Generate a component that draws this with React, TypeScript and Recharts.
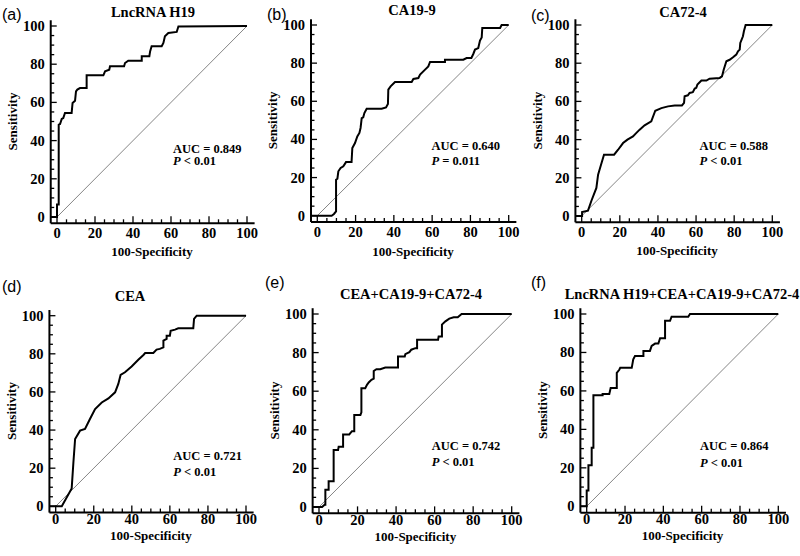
import React from "react";
import { LineChart, Line, XAxis, YAxis, ReferenceLine } from "recharts";

const SERIF = '"Liberation Serif", "Times New Roman", serif';
const SANS = '"Liberation Sans", Arial, sans-serif';

const TICKS = [0, 5, 10, 15, 20, 25, 30, 35, 40, 45, 50, 55, 60, 65, 70, 75, 80, 85, 90, 95, 100];
const X_DOMAIN: [number, number] = [-3.3, 104];
const Y_DOMAIN: [number, number] = [-3.3, 103];

// [100-specificity, sensitivity]
const LNCRNA_H19: [number, number][] = [
  [-3.3, 0], [0, 0], [0, 6.5], [0.9, 6.5], [0.9, 48.3], [1.6, 48.7], [2.5, 51.3], [3.3, 51.8],
  [4.2, 54.5], [7.7, 54.5], [8.2, 59.7], [9.5, 60.9], [10, 65.8], [10.7, 66.7], [12.1, 67.5],
  [15.6, 67.5], [15.6, 74.2], [24.4, 74.2], [25.3, 76.3], [27.5, 77.1], [27.9, 78.9], [35.3, 78.9],
  [35.8, 80.6], [37.5, 81.8], [44.6, 81.8], [44.6, 84.1], [48.6, 84.1], [49, 86.7], [49.8, 89.4],
  [55.1, 89.4], [56, 91.1], [56.8, 94.6], [58.6, 96.3], [63, 96.9], [63.9, 99.8], [100, 100],
];

const CA199: [number, number][] = [
  [-3.3, 0], [7.5, 0], [8.7, 0.9], [9.8, 2.3], [9.8, 18.9], [10.5, 19.4], [11, 23.3], [12.2, 25],
  [13.6, 25.9], [15, 28.1], [17.9, 28.1], [18.3, 35.5], [19.7, 38.1], [20.9, 41.6], [22, 43.4],
  [22.6, 46], [23.2, 51.2], [24, 51.6], [24.6, 53.8], [25.8, 56.1], [33.6, 56.1], [35.9, 56.8],
  [36.9, 58.6], [37.1, 66.1], [38.3, 67.8], [40.6, 70.1], [49.3, 70.1], [50.2, 71.7], [52.8, 72.2],
  [53.7, 74], [56.3, 76.6], [58, 78.3], [58.9, 80.6], [66.7, 80.6], [66.7, 81.8], [76.3, 81.8],
  [78, 82.7], [80.5, 82.7], [81.5, 84.8], [82.4, 87.1], [84.1, 87.9], [85, 91.8], [85.9, 93.5],
  [86.2, 98.4], [95.5, 98.4], [96.3, 100], [100, 100],
];

const CA724: [number, number][] = [
  [-3.3, 0], [0.2, 0], [0.2, 2.1], [3.3, 2.8], [5.1, 8], [7.7, 14.7], [8.6, 21.6], [9.4, 24.3],
  [11.7, 32.1], [17, 32.1], [19.1, 34.7], [21.7, 38.2], [24, 40], [26.9, 41.7], [28.7, 43.5],
  [30.4, 45.2], [33, 47.5], [36.5, 49.6], [38.6, 55.1], [41.8, 56.5], [45.3, 57.4], [48.8, 57.9],
  [52.6, 57.9], [53.7, 59.2], [54, 62.7], [55.7, 63.2], [56.6, 64.4], [58.3, 64.8], [59.3, 66.7],
  [60.1, 67.1], [60.7, 68.8], [62.8, 70.9], [65.4, 70.9], [67.1, 71.9], [72.4, 72.3], [73.6, 73.1],
  [74.5, 76.6], [75.9, 81], [77.6, 81.8], [79.4, 83.1], [81.1, 84.5], [82, 86.2], [82.9, 87.1],
  [83.2, 90.6], [83.7, 91.8], [84.6, 94.1], [85.1, 96.7], [86, 100], [100, 100],
];

const CEA: [number, number][] = [
  [-3.3, 0], [3.2, 0], [8.4, 9.4], [9.3, 23], [10.2, 35.3], [12.8, 39.7], [15.4, 40.6], [18, 45.8],
  [20.7, 51], [24.2, 54.5], [27.7, 56.6], [31.2, 59.8], [32.9, 64.2], [34.1, 68.9], [36.4, 70.3],
  [39.9, 73.4], [43.4, 76.9], [46.1, 79.4], [47, 80.4], [51.3, 80.4], [53, 82.2], [54.7, 82.6],
  [56.6, 83.4], [56.6, 86.9], [58.3, 87.8], [58.3, 89.5], [60, 89.5], [60.4, 92.1], [62.7, 92.7],
  [64.4, 93.4], [72.3, 93.4], [72.7, 98.3], [74.1, 100], [100, 100],
];

const CEA_CA199_CA724: [number, number][] = [
  [-3.3, 0], [1.6, 0], [2.9, 1.2], [3.3, 1.2], [3.3, 9], [5, 9], [5, 13.3], [7.6, 13.3],
  [7.6, 29.5], [9.9, 29.5], [10.2, 31.2], [12.5, 31.2], [12.5, 37.6], [15.7, 37.6], [17.1, 39.3],
  [18.3, 39.3], [18.3, 47.7], [21.5, 47.7], [22, 49], [22, 61.5], [24, 61.5], [24.9, 63.3],
  [25.8, 64.5], [27.2, 65.9], [28.4, 66.5], [28.4, 70.5], [29.8, 71.4], [31.8, 71.4], [34.4, 72.3],
  [41, 72.3], [41, 78], [44.5, 78], [44.8, 79.2], [46.9, 80.2], [47.9, 81.5], [50, 82.3],
  [50.9, 82.3], [50.9, 86.7], [61.8, 86.7], [62.1, 88.4], [63.8, 88.4], [63.8, 94.5], [65.6, 96.2],
  [67.6, 97.6], [69.9, 98.3], [72, 98.3], [74, 100], [100, 100],
];

const ALL_MARKERS: [number, number][] = [
  [-3.3, 0], [0, 0], [0, 8.2], [0.9, 8.2], [0.9, 21.3], [2.6, 21.3], [2.6, 30.4], [3.5, 30.4],
  [3.5, 57.7], [8.3, 57.7], [8.3, 58.4], [11.8, 58.4], [12.5, 61.5], [15.7, 61.5], [15.7, 69.4],
  [17, 71], [17.5, 72], [23.5, 72], [24.3, 76.4], [25.2, 78.1], [29.6, 78.1], [29.6, 80.8],
  [33, 80.8], [33.9, 83.4], [35.7, 84.6], [37.4, 84.6], [38.3, 87.4], [40.9, 87.4], [40.9, 96.5],
  [43.5, 96.5], [44.3, 98.6], [53, 98.6], [53.9, 100], [100, 100],
];

const TAGS = ["(a)", "(b)", "(c)", "(d)", "(e)", "(f)"];
const TITLES = ["LncRNA H19", "CA19-9", "CA72-4", "CEA", "CEA+CA19-9+CA72-4", "LncRNA H19+CEA+CA19-9+CA72-4"];
const AUCS = ["0.849", "0.640", "0.588", "0.721", "0.742", "0.864"];
const P_TEXT = ["< 0.01", "= 0.011", "< 0.01", "< 0.01", "< 0.01", "< 0.01"];
const CURVES = [LNCRNA_H19, CA199, CA724, CEA, CEA_CA199_CA724, ALL_MARKERS];

// pixel spots where 0 and 100 land on each axis, plus text anchors
const LAYOUT = [
  { x0: 57, x100: 247, y0: 217, y100: 26, tagX: 2, tagY: 20, titleX: 153, titleY: 17, tickDy: 15, labelDy: 33, aucX: 173, aucY: 152.5, pY: 165 },
  { x0: 317.3, x100: 508.7, y0: 215.7, y100: 25, tagX: 267, tagY: 20, titleX: 412, titleY: 15, tickDy: 15, labelDy: 34, aucX: 431.5, aucY: 150, pY: 164.5 },
  { x0: 581.7, x100: 772.3, y0: 216, y100: 25, tagX: 531, tagY: 21, titleX: 683, titleY: 17, tickDy: 15, labelDy: 33, aucX: 699.5, aucY: 149.5, pY: 164.5 },
  { x0: 55.7, x100: 246, y0: 506.3, y100: 315.7, tagX: 2, tagY: 292, titleX: 130, titleY: 301, tickDy: 11.5, labelDy: 27.5, aucX: 173.3, aucY: 460, pY: 476 },
  { x0: 319, x100: 511.7, y0: 507, y100: 314, tagX: 265, tagY: 288, titleX: 411, titleY: 299, tickDy: 11.5, labelDy: 27.5, aucX: 431.7, aucY: 450, pY: 466 },
  { x0: 586.7, x100: 778.3, y0: 506.3, y100: 314, tagX: 531, tagY: 288, titleX: 682, titleY: 299, tickDy: 11.5, labelDy: 27.5, aucX: 700, aucY: 450, pY: 466.5 },
];

const Y_AXIS_W = 40;
const X_AXIS_H = 10;

function BottomTick(props: any) {
  const { x, y, payload, dy } = props;
  const major = payload.value % 20 === 0;
  return (
    <g>
      <line x1={x} y1={y} x2={x} y2={y - (major ? 7 : 4)} stroke="#000" strokeWidth={1.3} />
      {major && (
        <text x={x} y={y + dy} textAnchor="middle" fontFamily={SERIF} fontWeight="bold" fontSize={14.5} fill="#000">
          {payload.value}
        </text>
      )}
    </g>
  );
}

function LeftTick(props: any) {
  const { x, y, payload } = props;
  const major = payload.value % 20 === 0;
  return (
    <g>
      <line x1={x} y1={y} x2={x + (major ? 6 : 3.5)} y2={y} stroke="#000" strokeWidth={1.3} />
      {major && (
        <text x={x - 6} y={y + 5} textAnchor="end" fontFamily={SERIF} fontWeight="bold" fontSize={14.5} fill="#000">
          {payload.value}
        </text>
      )}
    </g>
  );
}

function RocPanel({ index }: { index: number }) {
  const box = LAYOUT[index];
  const sx = (box.x100 - box.x0) / 100;
  const sy = (box.y0 - box.y100) / 100;
  const left = box.x0 + X_DOMAIN[0] * sx;
  const right = box.x0 + X_DOMAIN[1] * sx;
  const top = box.y0 - Y_DOMAIN[1] * sy;
  const bottom = box.y0 - Y_DOMAIN[0] * sy;
  const data = CURVES[index].map(([x, y]) => ({ x, y }));

  return (
    <div style={{ position: "absolute", left: 0, top: 0 }}>
      <LineChart
        width={800}
        height={556}
        data={data}
        margin={{ top, left: left - Y_AXIS_W, right: 800 - right, bottom: 556 - bottom - X_AXIS_H }}
      >
        <XAxis
          type="number"
          dataKey="x"
          domain={X_DOMAIN}
          ticks={TICKS}
          interval={0}
          allowDataOverflow
          height={X_AXIS_H}
          tickSize={0}
          tickMargin={0}
          tickLine={false}
          axisLine={{ stroke: "#000", strokeWidth: 2 }}
          tick={(p: any) => <BottomTick {...p} dy={box.tickDy} />}
        />
        <YAxis
          type="number"
          domain={Y_DOMAIN}
          ticks={TICKS}
          interval={0}
          allowDataOverflow
          width={Y_AXIS_W}
          tickSize={0}
          tickMargin={0}
          tickLine={false}
          axisLine={{ stroke: "#000", strokeWidth: 2 }}
          tick={(p: any) => <LeftTick {...p} />}
        />
        <ReferenceLine
          segment={[{ x: 0, y: 0 }, { x: 100, y: 100 }]}
          stroke="#666"
          strokeWidth={0.8}
        />
        <Line
          type="linear"
          dataKey="y"
          stroke="#000"
          strokeWidth={2}
          dot={false}
          isAnimationActive={false}
        />
      </LineChart>
    </div>
  );
}

function Labels() {
  return (
    <svg width={800} height={556} style={{ position: "absolute", left: 0, top: 0, pointerEvents: "none" }}>
      {LAYOUT.map((box, i) => {
        const sx = (box.x100 - box.x0) / 100;
        const sy = (box.y0 - box.y100) / 100;
        const axisX = box.x0 + X_DOMAIN[0] * sx;
        const axisY = box.y0 - Y_DOMAIN[0] * sy;
        const midX = box.x0 + 50 * sx;
        const midY = box.y0 - 50 * sy;
        const sensX = axisX - 38;
        return (
          <g key={i} fontFamily={SERIF} fontWeight="bold" fill="#000">
            <text x={box.tagX} y={box.tagY} fontFamily={SANS} fontWeight="normal" fontSize={16}>
              {TAGS[i]}
            </text>
            <text x={box.titleX} y={box.titleY} textAnchor="middle" fontSize={14.5}>
              {TITLES[i]}
            </text>
            <text
              x={sensX}
              y={midY}
              textAnchor="middle"
              dominantBaseline="central"
              fontSize={13}
              transform={`rotate(-90 ${sensX} ${midY})`}
            >
              Sensitivity
            </text>
            <text x={midX} y={axisY + box.labelDy} textAnchor="middle" fontSize={13}>
              100-Specificity
            </text>
            <text x={box.aucX} y={box.aucY} fontSize={12.5}>
              AUC = {AUCS[i]}
            </text>
            <text x={box.aucX} y={box.pY} fontSize={12.5}>
              <tspan fontStyle="italic">P</tspan> {P_TEXT[i]}
            </text>
          </g>
        );
      })}
    </svg>
  );
}

export default function App() {
  return (
    <div style={{ position: "absolute", left: 0, top: 0, width: 800, height: 556, background: "#fff", overflow: "hidden" }}>
      {LAYOUT.map((_, i) => (
        <RocPanel key={i} index={i} />
      ))}
      <Labels />
    </div>
  );
}
